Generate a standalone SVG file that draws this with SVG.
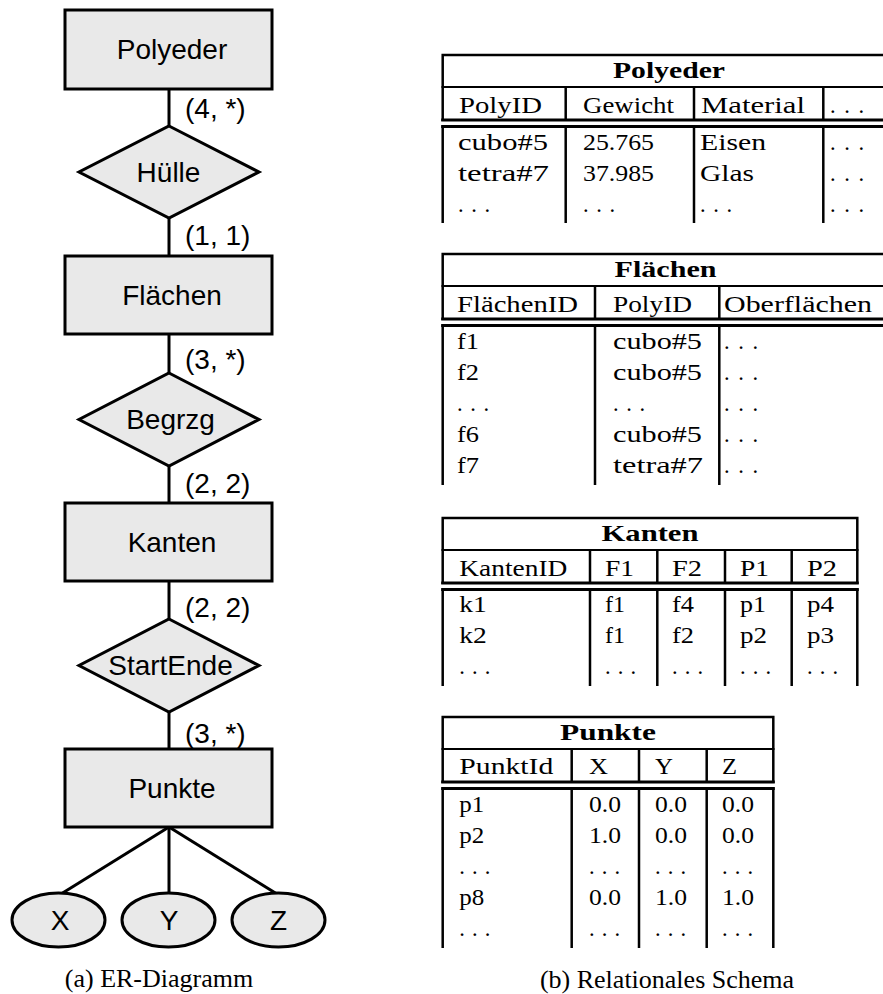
<svg xmlns="http://www.w3.org/2000/svg" width="883" height="994" viewBox="0 0 883 994">
<style>
.ent rect, .rel polygon, .att ellipse {fill:#e9e9e9; stroke:#000; stroke-width:3}
.er {font-family:"Liberation Sans",Arial,sans-serif; font-size:28px; fill:#000; text-anchor:middle}
.card {font-family:"Liberation Sans",Arial,sans-serif; font-size:28px; fill:#000}
#connectors line {stroke:#000; stroke-width:3}
.t {font-family:"Liberation Serif","Times New Roman",serif; font-size:22.5px; fill:#000}
.h {font-weight:bold; font-size:23.5px}
.r {stroke:#000; stroke-width:2.5; fill:none}
.m {stroke:#000; stroke-width:2; fill:none}
.d {stroke:#000; stroke-width:3; fill:none}
.cap {font-family:"Liberation Serif","Times New Roman",serif; font-size:26px; fill:#000; text-anchor:middle}
</style>
<rect width="883" height="994" fill="#fff"/>

<g id="connectors">
<line x1="169" y1="89" x2="169" y2="126"/>
<line x1="169" y1="218" x2="169" y2="256"/>
<line x1="169" y1="334" x2="169" y2="373"/>
<line x1="169" y1="466" x2="169" y2="503"/>
<line x1="169" y1="581" x2="169" y2="619"/>
<line x1="169" y1="712" x2="169" y2="749"/>
<line x1="169" y1="827" x2="61" y2="894"/>
<line x1="169" y1="827" x2="169" y2="894"/>
<line x1="169" y1="827" x2="277" y2="894"/>
<text class="card" x="185" y="118">(4, *)</text>
<text class="card" x="185" y="245">(1, 1)</text>
<text class="card" x="185" y="369">(3, *)</text>
<text class="card" x="185" y="493">(2, 2)</text>
<text class="card" x="185" y="617">(2, 2)</text>
<text class="card" x="185" y="743">(3, *)</text>
</g>

<g id="er-polyeder" class="ent"><rect x="65" y="10" width="207" height="79"/><text class="er" x="172" y="59">Polyeder</text></g>
<g id="er-huelle" class="rel"><polygon points="169,126 259,172 169,218 79,172"/><text class="er" x="168.5" y="182">Hülle</text></g>
<g id="er-flaechen" class="ent"><rect x="65" y="256" width="207" height="78"/><text class="er" x="172" y="305">Flächen</text></g>
<g id="er-begrzg" class="rel"><polygon points="169,373 259,419.5 169,466 79,419.5"/><text class="er" x="170.5" y="429">Begrzg</text></g>
<g id="er-kanten" class="ent"><rect x="65" y="503" width="207" height="78"/><text class="er" x="172" y="552">Kanten</text></g>
<g id="er-startende" class="rel"><polygon points="169,619 259,665.5 169,712 79,665.5"/><text class="er" x="170.5" y="675">StartEnde</text></g>
<g id="er-punkte" class="ent"><rect x="65" y="749" width="207" height="78"/><text class="er" x="172" y="798">Punkte</text></g>
<g id="er-x" class="att"><ellipse cx="58.5" cy="920" rx="46.5" ry="27"/><text class="er" x="60" y="930">X</text></g>
<g id="er-y" class="att"><ellipse cx="168.5" cy="920" rx="46.5" ry="27"/><text class="er" x="169" y="930">Y</text></g>
<g id="er-z" class="att"><ellipse cx="278.5" cy="920" rx="46.5" ry="27"/><text class="er" x="278.5" y="930">Z</text></g>

<g id="tab-polyeder" class="t">
<path class="r" d="M441.5 55H900 M442.7 54V121 M442.7 125.5V223 M565.7 87V121 M565.7 125.5V223 M694 87V121 M694 125.5V223 M823.3 87V121 M823.3 125.5V223"/>
<path class="m" d="M441.5 87H900"/>
<path class="d" d="M441.2 120H900 M441.2 126.5H900"/>
<text class="h" x="613" y="77.5" textLength="112" lengthAdjust="spacingAndGlyphs">Polyeder</text>
<text x="459" y="113" textLength="83" lengthAdjust="spacingAndGlyphs">PolyID</text>
<text x="583" y="113" textLength="91" lengthAdjust="spacingAndGlyphs">Gewicht</text>
<text x="701" y="113" textLength="104" lengthAdjust="spacingAndGlyphs">Material</text>
<text x="830" y="113" textLength="34" lengthAdjust="spacing">...</text>
<text x="458" y="150" textLength="90" lengthAdjust="spacingAndGlyphs">cubo#5</text>
<text x="583" y="150" textLength="71" lengthAdjust="spacingAndGlyphs">25.765</text>
<text x="700" y="150" textLength="66" lengthAdjust="spacingAndGlyphs">Eisen</text>
<text x="830" y="150" textLength="34" lengthAdjust="spacing">...</text>
<text x="458" y="181" textLength="91" lengthAdjust="spacingAndGlyphs">tetra#7</text>
<text x="583" y="181" textLength="71" lengthAdjust="spacingAndGlyphs">37.985</text>
<text x="700" y="181" textLength="54" lengthAdjust="spacingAndGlyphs">Glas</text>
<text x="830" y="181" textLength="34" lengthAdjust="spacing">...</text>
<text x="458" y="212" textLength="32" lengthAdjust="spacing">...</text>
<text x="583" y="212" textLength="32" lengthAdjust="spacing">...</text>
<text x="700" y="212" textLength="32" lengthAdjust="spacing">...</text>
<text x="830" y="212" textLength="34" lengthAdjust="spacing">...</text>
</g>

<g id="tab-flaechen" class="t">
<path class="r" d="M441.5 254H900 M442.7 253V320 M442.7 324.5V485 M595 286V320 M595 324.5V485 M719.3 286V320 M719.3 324.5V485"/>
<path class="m" d="M441.5 286H900"/>
<path class="d" d="M441.2 319H900 M441.2 325.5H900"/>
<text class="h" x="614.5" y="276.5" textLength="102" lengthAdjust="spacingAndGlyphs">Flächen</text>
<text x="457" y="312" textLength="121" lengthAdjust="spacingAndGlyphs">FlächenID</text>
<text x="613" y="312" textLength="79" lengthAdjust="spacingAndGlyphs">PolyID</text>
<text x="724" y="312" textLength="148" lengthAdjust="spacingAndGlyphs">Oberflächen</text>
<text x="457" y="349" textLength="22" lengthAdjust="spacingAndGlyphs">f1</text>
<text x="613" y="349" textLength="89" lengthAdjust="spacingAndGlyphs">cubo#5</text>
<text x="724" y="349" textLength="34" lengthAdjust="spacing">...</text>
<text x="457" y="380" textLength="22" lengthAdjust="spacingAndGlyphs">f2</text>
<text x="613" y="380" textLength="89" lengthAdjust="spacingAndGlyphs">cubo#5</text>
<text x="724" y="380" textLength="34" lengthAdjust="spacing">...</text>
<text x="457" y="411" textLength="32" lengthAdjust="spacing">...</text>
<text x="613" y="411" textLength="32" lengthAdjust="spacing">...</text>
<text x="724" y="411" textLength="34" lengthAdjust="spacing">...</text>
<text x="457" y="442" textLength="22" lengthAdjust="spacingAndGlyphs">f6</text>
<text x="613" y="442" textLength="89" lengthAdjust="spacingAndGlyphs">cubo#5</text>
<text x="724" y="442" textLength="34" lengthAdjust="spacing">...</text>
<text x="457" y="473" textLength="22" lengthAdjust="spacingAndGlyphs">f7</text>
<text x="613" y="473" textLength="90" lengthAdjust="spacingAndGlyphs">tetra#7</text>
<text x="724" y="473" textLength="34" lengthAdjust="spacing">...</text>
</g>

<g id="tab-kanten" class="t">
<path class="r" d="M441.5 518H858.5 M442.7 517V584 M442.7 588.5V686 M857.3 517V584 M857.3 588.5V686 M590 550V584 M590 588.5V686 M657.3 550V584 M657.3 588.5V686 M725 550V584 M725 588.5V686 M791.7 550V584 M791.7 588.5V686"/>
<path class="m" d="M441.5 550H858.5"/>
<path class="d" d="M441.2 583H858.8 M441.2 589.5H858.8"/>
<text class="h" x="601.5" y="540.5" textLength="97" lengthAdjust="spacingAndGlyphs">Kanten</text>
<text x="459.3" y="576" textLength="108" lengthAdjust="spacingAndGlyphs">KantenID</text>
<text x="605" y="576" textLength="29" lengthAdjust="spacingAndGlyphs">F1</text>
<text x="672" y="576" textLength="30" lengthAdjust="spacingAndGlyphs">F2</text>
<text x="740" y="576" textLength="29" lengthAdjust="spacingAndGlyphs">P1</text>
<text x="807" y="576" textLength="30" lengthAdjust="spacingAndGlyphs">P2</text>
<text x="459.3" y="612" textLength="27.5" lengthAdjust="spacingAndGlyphs">k1</text>
<text x="605" y="612" textLength="20" lengthAdjust="spacingAndGlyphs">f1</text>
<text x="672" y="612" textLength="22" lengthAdjust="spacingAndGlyphs">f4</text>
<text x="740" y="612" textLength="26" lengthAdjust="spacingAndGlyphs">p1</text>
<text x="807" y="612" textLength="27" lengthAdjust="spacingAndGlyphs">p4</text>
<text x="459.3" y="643" textLength="27.5" lengthAdjust="spacingAndGlyphs">k2</text>
<text x="605" y="643" textLength="20" lengthAdjust="spacingAndGlyphs">f1</text>
<text x="672" y="643" textLength="22" lengthAdjust="spacingAndGlyphs">f2</text>
<text x="740" y="643" textLength="27" lengthAdjust="spacingAndGlyphs">p2</text>
<text x="807" y="643" textLength="27" lengthAdjust="spacingAndGlyphs">p3</text>
<text x="459.3" y="674" textLength="31" lengthAdjust="spacing">...</text>
<text x="605" y="674" textLength="31" lengthAdjust="spacing">...</text>
<text x="672" y="674" textLength="31" lengthAdjust="spacing">...</text>
<text x="740" y="674" textLength="31" lengthAdjust="spacing">...</text>
<text x="807" y="674" textLength="31" lengthAdjust="spacing">...</text>
</g>

<g id="tab-punkte" class="t">
<path class="r" d="M441.5 717H774.5 M442.7 716V783 M442.7 787.5V948 M773.3 716V783 M773.3 787.5V948 M571.7 749V783 M571.7 787.5V948 M639 749V783 M639 787.5V948 M706.7 749V783 M706.7 787.5V948"/>
<path class="m" d="M441.5 749H774.5"/>
<path class="d" d="M441.2 782H774.8 M441.2 788.5H774.8"/>
<text class="h" x="560" y="739.5" textLength="96" lengthAdjust="spacingAndGlyphs">Punkte</text>
<text x="459.3" y="774" textLength="94" lengthAdjust="spacingAndGlyphs">PunktId</text>
<text x="589" y="774" textLength="19" lengthAdjust="spacingAndGlyphs">X</text>
<text x="655" y="774" textLength="18" lengthAdjust="spacingAndGlyphs">Y</text>
<text x="722" y="774" textLength="15" lengthAdjust="spacingAndGlyphs">Z</text>
<text x="459.3" y="812" textLength="25" lengthAdjust="spacingAndGlyphs">p1</text>
<text x="589" y="812" textLength="32" lengthAdjust="spacingAndGlyphs">0.0</text>
<text x="655" y="812" textLength="32" lengthAdjust="spacingAndGlyphs">0.0</text>
<text x="722" y="812" textLength="32" lengthAdjust="spacingAndGlyphs">0.0</text>
<text x="459.3" y="843" textLength="25" lengthAdjust="spacingAndGlyphs">p2</text>
<text x="589" y="843" textLength="32" lengthAdjust="spacingAndGlyphs">1.0</text>
<text x="655" y="843" textLength="32" lengthAdjust="spacingAndGlyphs">0.0</text>
<text x="722" y="843" textLength="32" lengthAdjust="spacingAndGlyphs">0.0</text>
<text x="459.3" y="874" textLength="31" lengthAdjust="spacing">...</text>
<text x="589" y="874" textLength="31" lengthAdjust="spacing">...</text>
<text x="655" y="874" textLength="31" lengthAdjust="spacing">...</text>
<text x="722" y="874" textLength="31" lengthAdjust="spacing">...</text>
<text x="459.3" y="905" textLength="25" lengthAdjust="spacingAndGlyphs">p8</text>
<text x="589" y="905" textLength="32" lengthAdjust="spacingAndGlyphs">0.0</text>
<text x="655" y="905" textLength="32" lengthAdjust="spacingAndGlyphs">1.0</text>
<text x="722" y="905" textLength="32" lengthAdjust="spacingAndGlyphs">1.0</text>
<text x="459.3" y="936" textLength="31" lengthAdjust="spacing">...</text>
<text x="589" y="936" textLength="31" lengthAdjust="spacing">...</text>
<text x="655" y="936" textLength="31" lengthAdjust="spacing">...</text>
<text x="722" y="936" textLength="31" lengthAdjust="spacing">...</text>
</g>

<text class="cap" x="159" y="987">(a) ER-Diagramm</text>
<text class="cap" x="667" y="988">(b) Relationales Schema</text>
</svg>
